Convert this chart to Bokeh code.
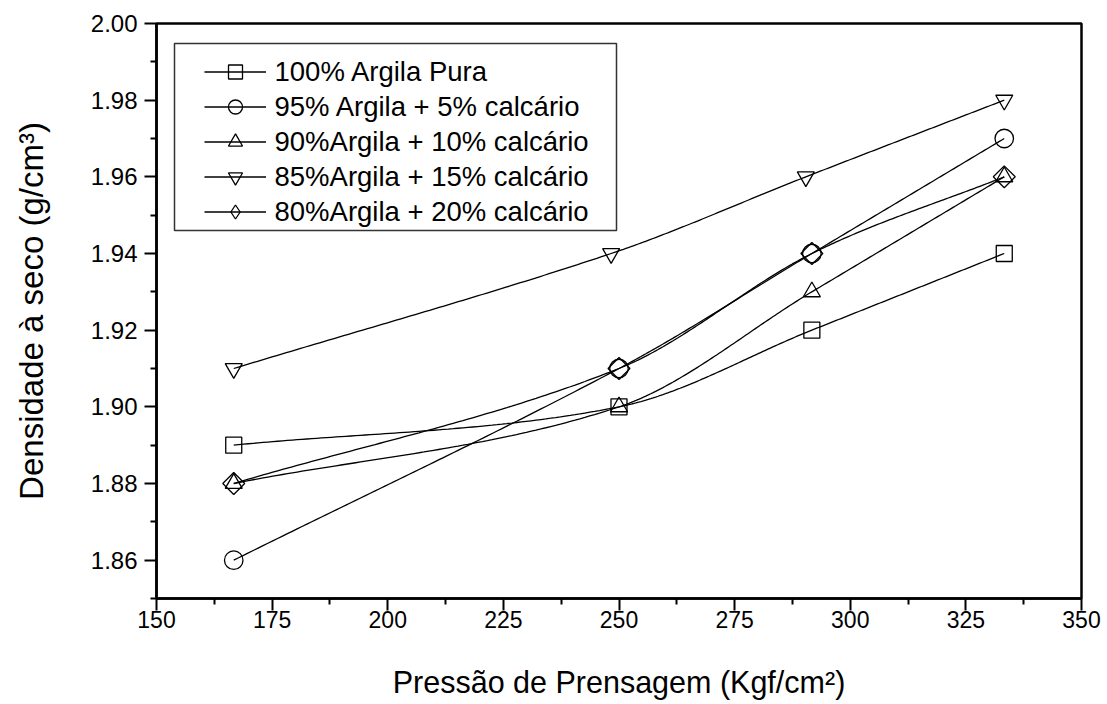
import numpy as np
from bokeh.plotting import figure
from bokeh.models import Legend, LegendItem, BoxAnnotation, FixedTicker, Range1d, Node
from bokeh.embed import file_html
from bokeh.resources import INLINE

# ---- data ----
pressure = [166.7, 250.0, 291.7, 333.3]
pressure_85 = [166.7, 248.3, 290.4, 333.3]
dens_100 = [1.89, 1.90, 1.92, 1.94]
dens_95 = [1.86, 1.91, 1.94, 1.97]
dens_90 = [1.88, 1.90, 1.93, 1.96]
dens_85 = [1.91, 1.94, 1.96, 1.98]
dens_80 = [1.88, 1.91, 1.94, 1.96]
series_labels = [
    "100% Argila Pura",
    "95% Argila + 5% calcário",
    "90%Argila + 10% calcário",
    "85%Argila + 15% calcário",
    "80%Argila + 20% calcário",
]
x_ticks = [150, 175, 200, 225, 250, 275, 300, 325, 350]
y_ticks = [1.86, 1.88, 1.90, 1.92, 1.94, 1.96, 1.98, 2.00]
x_label = "Pressão de Prensagem (Kgf/cm²)"
y_label = "Densidade à seco (g/cm³)"


def smooth_curve(x, y, n=80):
    """Smooth connecting curve through the data points (cubic Hermite,
    Catmull-Rom style tangents) -- only a drawing style for the line."""
    x = np.asarray(x, float)
    y = np.asarray(y, float)
    k = len(x)
    m = np.empty(k)
    m[0] = (y[1] - y[0]) / (x[1] - x[0])
    m[-1] = (y[-1] - y[-2]) / (x[-1] - x[-2])
    for i in range(1, k - 1):
        m[i] = (y[i + 1] - y[i - 1]) / (x[i + 1] - x[i - 1])
    xs_all, ys_all = [], []
    for i in range(k - 1):
        h = x[i + 1] - x[i]
        t = np.linspace(0, 1, n)
        h00 = 2 * t ** 3 - 3 * t ** 2 + 1
        h10 = t ** 3 - 2 * t ** 2 + t
        h01 = -2 * t ** 3 + 3 * t ** 2
        h11 = t ** 3 - t ** 2
        xs_all.append(x[i] + t * h)
        ys_all.append(h00 * y[i] + h10 * h * m[i] + h01 * y[i + 1] + h11 * h * m[i + 1])
    return np.concatenate(xs_all), np.concatenate(ys_all)


FONT = "Liberation Sans"

p = figure(
    frame_width=925, frame_height=575,
    x_range=Range1d(150, 350), y_range=Range1d(1.85, 2.00),
    output_backend="svg", toolbar_location=None,
    min_border_left=156, min_border_right=20, min_border_top=23, min_border_bottom=102,
    background_fill_color="white", border_fill_color="white",
)
p.grid.visible = False
p.outline_line_color = "black"
p.outline_line_width = 2.5

xax = p.xaxis[0]
yax = p.yaxis[0]
xax.ticker = FixedTicker(ticks=x_ticks,
                         minor_ticks=[(a + b) / 2 for a, b in zip(x_ticks[:-1], x_ticks[1:])])
yax.ticker = FixedTicker(ticks=y_ticks,
                         minor_ticks=[y_ticks[0] - 0.01] + [(a + b) / 2 for a, b in zip(y_ticks[:-1], y_ticks[1:])])
yax.major_label_overrides = {t: f"{t:.2f}" for t in y_ticks}
for ax in (xax, yax):
    ax.axis_line_width = 2.5
    ax.axis_line_color = "black"
    ax.major_tick_line_width = 2
    ax.minor_tick_line_width = 2
    ax.major_tick_out = 12
    ax.major_tick_in = 0
    ax.minor_tick_out = 6
    ax.minor_tick_in = 0
    ax.major_label_text_font = FONT
    ax.major_label_text_color = "black"
    ax.axis_label_text_font = FONT
    ax.axis_label_text_font_style = "normal"
    ax.axis_label_text_color = "black"
xax.major_label_text_font_size = "23px"
yax.major_label_text_font_size = "24px"
xax.axis_label = x_label
yax.axis_label = y_label
xax.axis_label_text_font_size = "30.5px"
yax.axis_label_text_font_size = "33px"
xax.major_label_standoff = 0
yax.major_label_standoff = 7
xax.axis_label_standoff = 34
yax.axis_label_standoff = 38

series = [
    (pressure, dens_100, "square", 16, 0.0),
    (pressure, dens_95, "circle", 18.5, 0.0),
    (pressure, dens_90, "triangle", 17, 0.0),
    (pressure_85, dens_85, "inverted_triangle", 17, 0.0),
    (pressure, dens_80, "square", 15.5, np.pi / 4),
]

items = []
for (xv, yv, marker, size, ang), lab in zip(series, series_labels):
    xs, ys = smooth_curve(xv, yv)
    lr = p.line(xs, ys, line_color="black", line_width=1.3)
    sr = p.scatter(xv, yv, marker=marker, size=size, angle=ang,
                   line_color="black", line_width=1.3, fill_color=None)
    if ang != 0.0:
        # legend glyphs are never rotated: a hidden diamond marker serves as the key
        key = p.scatter(xv, yv, marker="diamond", size=size,
                        line_color="black", line_width=1.3, fill_color=None, visible=False)
        items.append(LegendItem(label=lab, renderers=[lr, key]))
    else:
        items.append(LegendItem(label=lab, renderers=[lr, sr]))

box = BoxAnnotation(
    left=Node(target="frame", symbol="left", offset=18),
    right=Node(target="frame", symbol="left", offset=460),
    top=Node(target="frame", symbol="top", offset=20),
    bottom=Node(target="frame", symbol="top", offset=207),
    fill_color="white", fill_alpha=1.0,
    line_color="#333333", line_width=1.5, line_alpha=1.0,
)
p.add_layout(box)

legend = Legend(
    items=items, location=(47.5, 369), padding=0, spacing=0, margin=0,
    glyph_width=62, glyph_height=35, label_height=35, label_standoff=9,
    label_text_font=FONT, label_text_font_size="27.5px", label_text_color="black",
    border_line_color=None, background_fill_alpha=0.0, inactive_fill_alpha=0.0,
)
p.add_layout(legend)

open("out.html", "w").write(file_html(p, INLINE))
